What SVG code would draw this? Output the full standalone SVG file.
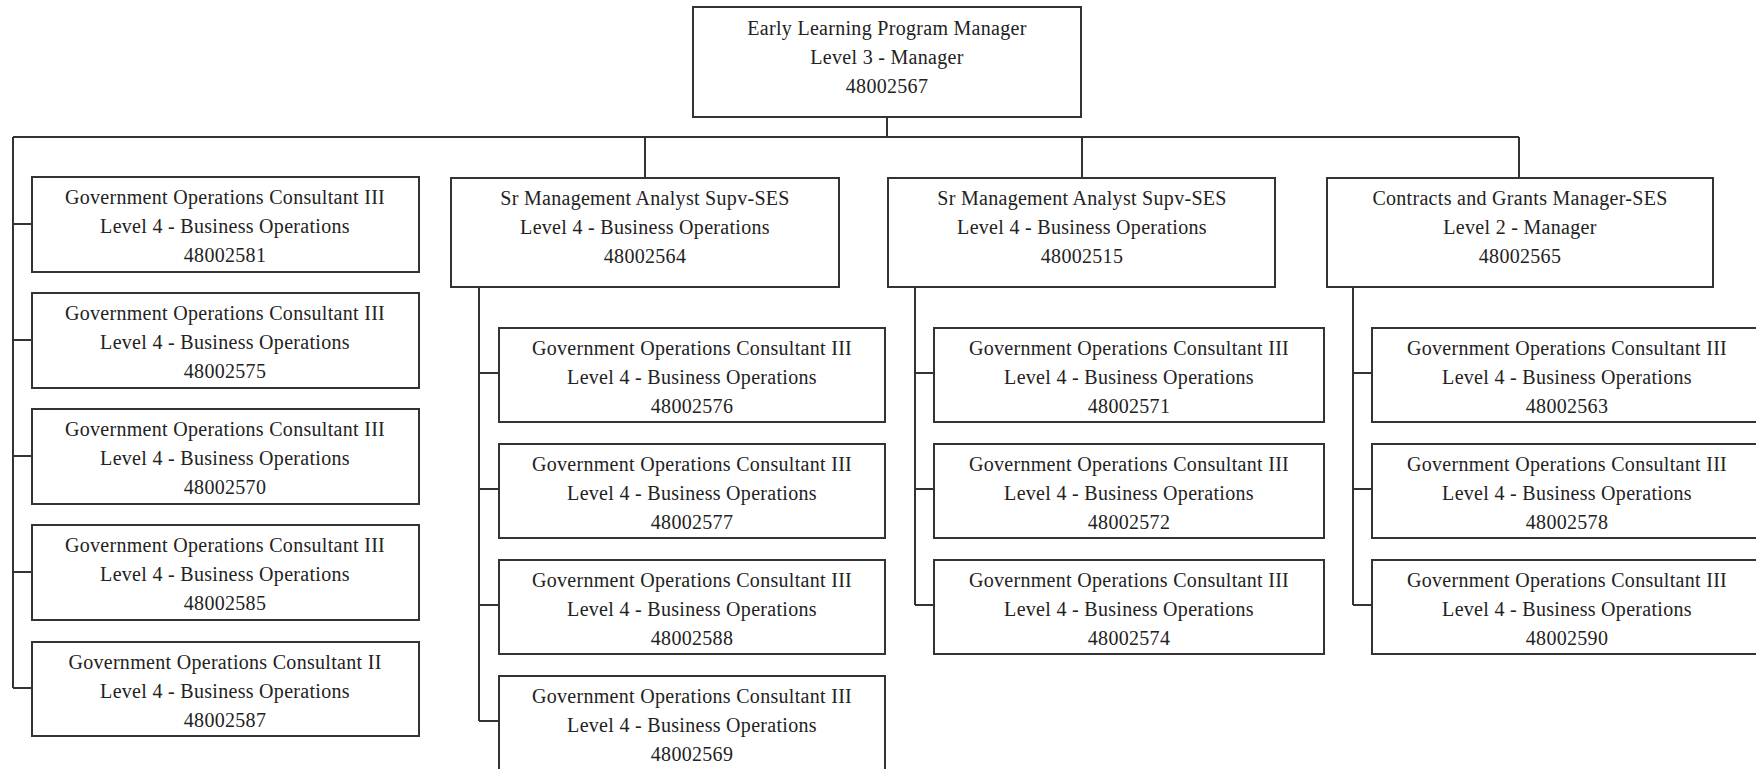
<svg xmlns="http://www.w3.org/2000/svg" width="1756" height="769" viewBox="0 0 1756 769">
  <style>
    .box { fill: #ffffff; stroke: #333333; stroke-width: 2; }
    .link { fill: none; stroke: #333333; stroke-width: 2; }
    text { font-family: "Liberation Serif", "Times New Roman", serif; font-size: 20px; fill: #222222; text-anchor: middle; letter-spacing: 0.3px; }
  </style>
  <rect width="1756" height="769" fill="#ffffff"/>

  <!-- connectors -->
  <g id="connectors">
    <path class="link" d="M887,117 V137 M13,137 H1519"/>
    <path class="link" d="M645,137 V178 M1082,137 V178 M1519,137 V178"/>
    <!-- direct reports of the program manager -->
    <path class="link" d="M13,137 V688 M13,224 H32 M13,340 H32 M13,456 H32 M13,572 H32 M13,688 H32"/>
    <!-- analyst 48002564 team -->
    <path class="link" d="M479,287 V721 M479,373 H499 M479,489 H499 M479,605 H499 M479,721 H499"/>
    <!-- analyst 48002515 team -->
    <path class="link" d="M915,287 V605 M915,373 H934 M915,489 H934 M915,605 H934"/>
    <!-- contracts manager team -->
    <path class="link" d="M1353,287 V605 M1353,373 H1372 M1353,489 H1372 M1353,605 H1372"/>
  </g>

  <g id="n48002567">
    <rect class="box" x="693" y="7" width="388" height="110"/>
    <text x="887" y="35">Early Learning Program Manager</text>
    <text x="887" y="64">Level 3 - Manager</text>
    <text x="887" y="93">48002567</text>
  </g>

  <g id="n48002564">
    <rect class="box" x="451" y="178" width="388" height="109"/>
    <text x="645" y="205">Sr Management Analyst Supv-SES</text>
    <text x="645" y="234">Level 4 - Business Operations</text>
    <text x="645" y="263">48002564</text>
  </g>
  <g id="n48002515">
    <rect class="box" x="888" y="178" width="387" height="109"/>
    <text x="1082" y="205">Sr Management Analyst Supv-SES</text>
    <text x="1082" y="234">Level 4 - Business Operations</text>
    <text x="1082" y="263">48002515</text>
  </g>
  <g id="n48002565">
    <rect class="box" x="1327" y="178" width="386" height="109"/>
    <text x="1520" y="205">Contracts and Grants Manager-SES</text>
    <text x="1520" y="234">Level 2 - Manager</text>
    <text x="1520" y="263">48002565</text>
  </g>

  <!-- left column -->
  <g id="n48002581">
    <rect class="box" x="32" y="177" width="387" height="95"/>
    <text x="225" y="204">Government Operations Consultant III</text>
    <text x="225" y="233">Level 4 - Business Operations</text>
    <text x="225" y="262">48002581</text>
  </g>
  <g id="n48002575">
    <rect class="box" x="32" y="293" width="387" height="95"/>
    <text x="225" y="320">Government Operations Consultant III</text>
    <text x="225" y="349">Level 4 - Business Operations</text>
    <text x="225" y="378">48002575</text>
  </g>
  <g id="n48002570">
    <rect class="box" x="32" y="409" width="387" height="95"/>
    <text x="225" y="436">Government Operations Consultant III</text>
    <text x="225" y="465">Level 4 - Business Operations</text>
    <text x="225" y="494">48002570</text>
  </g>
  <g id="n48002585">
    <rect class="box" x="32" y="525" width="387" height="95"/>
    <text x="225" y="552">Government Operations Consultant III</text>
    <text x="225" y="581">Level 4 - Business Operations</text>
    <text x="225" y="610">48002585</text>
  </g>
  <g id="n48002587">
    <rect class="box" x="32" y="642" width="387" height="94"/>
    <text x="225" y="669">Government Operations Consultant II</text>
    <text x="225" y="698">Level 4 - Business Operations</text>
    <text x="225" y="727">48002587</text>
  </g>

  <!-- second column -->
  <g id="n48002576">
    <rect class="box" x="499" y="328" width="386" height="94"/>
    <text x="692" y="355">Government Operations Consultant III</text>
    <text x="692" y="384">Level 4 - Business Operations</text>
    <text x="692" y="413">48002576</text>
  </g>
  <g id="n48002577">
    <rect class="box" x="499" y="444" width="386" height="94"/>
    <text x="692" y="471">Government Operations Consultant III</text>
    <text x="692" y="500">Level 4 - Business Operations</text>
    <text x="692" y="529">48002577</text>
  </g>
  <g id="n48002588">
    <rect class="box" x="499" y="560" width="386" height="94"/>
    <text x="692" y="587">Government Operations Consultant III</text>
    <text x="692" y="616">Level 4 - Business Operations</text>
    <text x="692" y="645">48002588</text>
  </g>
  <g id="n48002569">
    <rect class="box" x="499" y="676" width="386" height="94"/>
    <text x="692" y="703">Government Operations Consultant III</text>
    <text x="692" y="732">Level 4 - Business Operations</text>
    <text x="692" y="761">48002569</text>
  </g>

  <!-- third column -->
  <g id="n48002571">
    <rect class="box" x="934" y="328" width="390" height="94"/>
    <text x="1129" y="355">Government Operations Consultant III</text>
    <text x="1129" y="384">Level 4 - Business Operations</text>
    <text x="1129" y="413">48002571</text>
  </g>
  <g id="n48002572">
    <rect class="box" x="934" y="444" width="390" height="94"/>
    <text x="1129" y="471">Government Operations Consultant III</text>
    <text x="1129" y="500">Level 4 - Business Operations</text>
    <text x="1129" y="529">48002572</text>
  </g>
  <g id="n48002574">
    <rect class="box" x="934" y="560" width="390" height="94"/>
    <text x="1129" y="587">Government Operations Consultant III</text>
    <text x="1129" y="616">Level 4 - Business Operations</text>
    <text x="1129" y="645">48002574</text>
  </g>

  <!-- fourth column -->
  <g id="n48002563">
    <rect class="box" x="1372" y="328" width="390" height="94"/>
    <text x="1567" y="355">Government Operations Consultant III</text>
    <text x="1567" y="384">Level 4 - Business Operations</text>
    <text x="1567" y="413">48002563</text>
  </g>
  <g id="n48002578">
    <rect class="box" x="1372" y="444" width="390" height="94"/>
    <text x="1567" y="471">Government Operations Consultant III</text>
    <text x="1567" y="500">Level 4 - Business Operations</text>
    <text x="1567" y="529">48002578</text>
  </g>
  <g id="n48002590">
    <rect class="box" x="1372" y="560" width="390" height="94"/>
    <text x="1567" y="587">Government Operations Consultant III</text>
    <text x="1567" y="616">Level 4 - Business Operations</text>
    <text x="1567" y="645">48002590</text>
  </g>
</svg>
